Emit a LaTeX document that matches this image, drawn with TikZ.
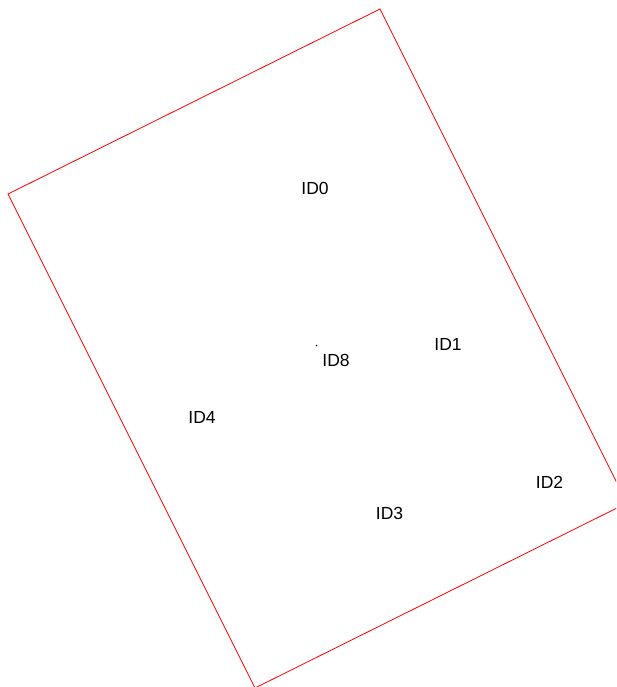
\documentclass[tikz,border=0pt]{standalone}
\usepackage{fontspec}
\setmainfont{Liberation Sans}

\begin{document}
\begin{tikzpicture}[x=1pt, y=-1pt, every node/.style={font=\fontsize{17.5}{20}\selectfont, inner sep=0pt}]
    \useasboundingbox (0,0) rectangle (616,687);
    \clip (0,0) rectangle (616,687);
    \coordinate (top) at (380,9);
    \coordinate (left) at (8,194);
    \coordinate (bottom) at (255,688);
    \coordinate (right) at (627,503);
    \draw[red, line width=0.8pt] (top) -- (right) -- (bottom) -- (left) -- cycle;
    \node (id0) at (315,188) {ID0};
    \node (id1) at (448,344.5) {ID1};
    \node (id2) at (549.5,482) {ID2};
    \node (id3) at (389.5,513) {ID3};
    \node (id4) at (202,417) {ID4};
    \node (id8) at (336,360) {ID8};
    \fill[black] (316.5,345.5) circle (0.8);
\end{tikzpicture}
\end{document}
